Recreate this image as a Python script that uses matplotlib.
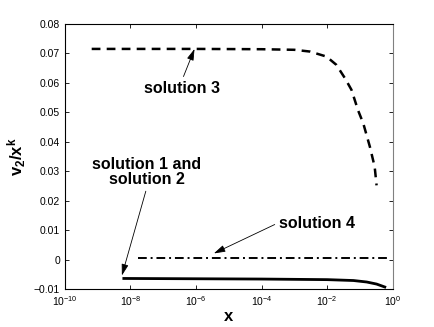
import numpy as np
import matplotlib
matplotlib.use("Agg")
import matplotlib.pyplot as plt

plt.rcParams.update({"font.family": "Liberation Sans", "font.size": 7.5,
                     "mathtext.fontset": "custom",
                     "mathtext.rm": "Liberation Sans",
                     "mathtext.bf": "Liberation Sans:bold",
                     "mathtext.it": "Liberation Sans:italic"})

# solution 3 (dashed)
sol3_x = [6.6e-10, 1e-8, 1e-6, 1e-4, 1e-3, 3e-3, 9.5e-3, 0.019, 0.035,
          0.055, 0.087, 0.126, 0.2, 0.28, 0.32]
sol3_y = [0.0715, 0.0715, 0.0715, 0.0714, 0.0712, 0.0706, 0.0689, 0.0661,
          0.0615, 0.0576, 0.0507, 0.0462, 0.0383, 0.0315, 0.0252]
# solution 4 (dash-dot)
sol4_x = [1.7e-8, 0.7]
sol4_y = [0.0004, 0.0004]
# solutions 1 and 2 (solid)
sol1_x = [6.3e-9, 1e-4, 1e-2, 0.063, 0.16, 0.32, 0.57]
sol1_y = [-0.0064, -0.0066, -0.0068, -0.0071, -0.0076, -0.0083, -0.0093]

fig = plt.figure(figsize=(4.35, 3.27), dpi=100)
ax = fig.add_axes([0.149, 0.116, 0.754, 0.811])

ax.semilogx(sol3_x, sol3_y, color="k", lw=1.8, ls=(0, (3.5, 2.5)))
ax.semilogx(sol4_x, sol4_y, color="k", lw=1.4, ls=(0, (4.5, 2, 1, 2)))
ax.semilogx(sol1_x, sol1_y, color="k", lw=2.0, ls="-")

ax.set_xlim(1e-10, 1)
ax.set_ylim(-0.01, 0.08)
ax.set_xticks([1e-10, 1e-8, 1e-6, 1e-4, 1e-2, 1])
ax.xaxis.set_minor_locator(matplotlib.ticker.NullLocator())
ax.set_yticks(np.arange(-0.01, 0.081, 0.01))
ax.set_yticklabels(["\u22120.01", "0", "0.01", "0.02", "0.03", "0.04",
                    "0.05", "0.06", "0.07", "0.08"])
ax.tick_params(direction="in", top=True, right=True, length=3, width=0.6,
               labelsize=7.5)
for s in ax.spines.values():
    s.set_linewidth(0.8)
ax.spines["right"].set_color("0.5")

ax.set_xlabel(r"$\mathbf{x}$", fontsize=12, labelpad=1)
ax.set_ylabel(r"$\mathbf{v_2/x^k}$", fontsize=12, labelpad=4)

aprops = dict(arrowstyle="-|>,head_length=0.6,head_width=0.18", color="k",
              lw=0.6, shrinkA=1, shrinkB=0)
ax.annotate("solution 3", xy=(9e-7, 0.0715), xytext=(3.7e-7, 0.0582),
            ha="center", va="center", fontsize=11.5, fontweight="bold",
            arrowprops=dict(aprops, relpos=(0.5, 1.0)))
ax.annotate("solution 1 and\nsolution 2", xy=(5.5e-9, -0.0054),
            xytext=(3.2e-8, 0.0297), ha="center", va="center",
            fontsize=11.5, fontweight="bold", linespacing=1.0,
            arrowprops=dict(aprops, relpos=(0.5, 0.0)))
ax.annotate("solution 4", xy=(3.5e-6, 0.0021), xytext=(4.8e-3, 0.0123),
            ha="center", va="center", fontsize=11.5, fontweight="bold",
            arrowprops=dict(aprops, relpos=(0.0, 0.55)))

fig.savefig("out.png", dpi=100)
